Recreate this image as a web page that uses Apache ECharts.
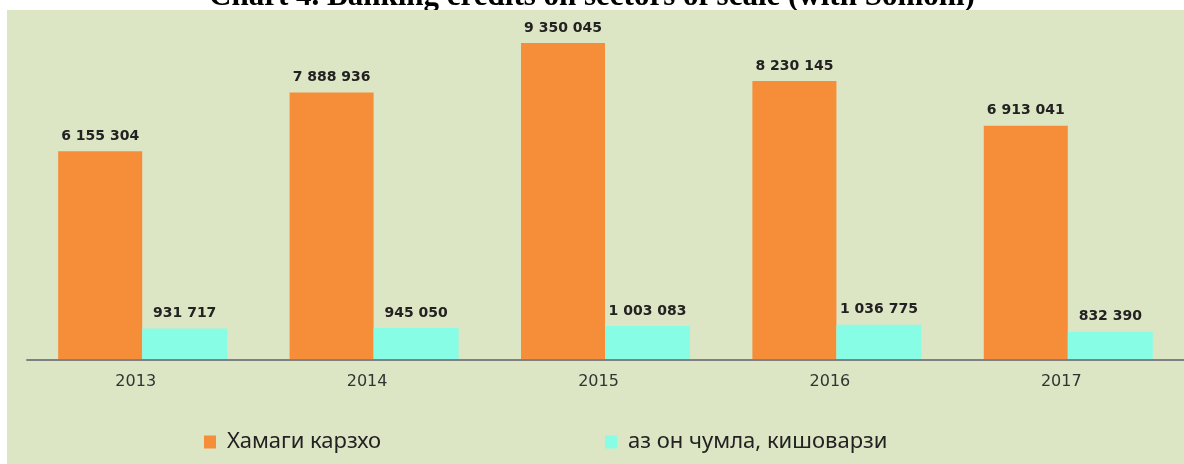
<!DOCTYPE html>
<html>
<head>
<meta charset="utf-8">
<script src="https://cdn.jsdelivr.net/npm/echarts@6/dist/echarts.min.js"></script>
<style>
  html, body { margin: 0; padding: 0; background: #ffffff; }
  #chart { width: 1184px; height: 464px; }
</style>
</head>
<body>
<div id="chart"></div>
<script>
// years on the x axis
const years = ['2013', '2014', '2015', '2016', '2017'];
// total credits
const totalCredits = [6155304, 7888936, 9350045, 8230145, 6913041];
// of which agriculture
const agriCredits = [931717, 945050, 1003083, 1036775, 832390];
const seriesNames = ['Хамаги карзхо', 'аз он чумла, кишоварзи'];

const fmt = v => String(v).replace(/\B(?=(\d{3})+(?!\d))/g, ' ');

const chart = echarts.init(document.getElementById('chart'));

const labelStyle = {
    show: true,
    position: 'top',
    distance: 8,
    color: '#222',
    fontFamily: 'DejaVu Sans',
    fontSize: 14,
    fontWeight: 'bold',
    formatter: p => fmt(p.value)
};

const option = {
    backgroundColor: '#ffffff',
    animation: false,
    graphic: [
        {
            type: 'text',
            z: 0,
            left: 'center',
            top: -19,
            style: {
                text: 'Chart 4. Banking credits on sectors of scale (with Somoni)',
                fontFamily: 'Liberation Serif',
                fontWeight: 'bold',
                fontSize: 31,
                fill: '#000'
            }
        },
        {
            type: 'rect',
            z: 1,
            left: 7,
            top: 10,
            shape: { width: 1177, height: 454 },
            style: { fill: '#dce5c4' }
        }
    ],
    legend: {
        data: seriesNames,
        bottom: 6,
        left: 199,
        itemWidth: 12,
        itemHeight: 13,
        itemGap: 224,
        icon: 'rect',
        textStyle: { color: '#222', fontFamily: 'Noto Sans', fontSize: 22, padding: [0, 0, 0, 6] }
    },
    grid: { left: 27, right: 0, top: 21, bottom: 104 },
    xAxis: {
        type: 'category',
        data: years,
        z: 5,
        axisTick: { show: false },
        axisLine: { lineStyle: { color: '#808080', width: 2 } },
        axisLabel: {
            color: '#333',
            fontFamily: 'DejaVu Sans',
            fontSize: 16,
            margin: 14,
            padding: [0, 14, 0, 0]
        }
    },
    yAxis: {
        type: 'value',
        min: 0,
        max: 10000000,
        show: false,
        splitLine: { show: false }
    },
    series: [
        {
            name: seriesNames[0],
            type: 'bar',
            data: totalCredits,
            barWidth: 84,
            barGap: '0%',
            itemStyle: { color: '#f68d38' },
            label: labelStyle
        },
        {
            name: seriesNames[1],
            type: 'bar',
            data: agriCredits,
            barWidth: 85,
            itemStyle: { color: '#88fde6' },
            label: labelStyle
        }
    ]
};

chart.setOption(option);
</script>
</body>
</html>
